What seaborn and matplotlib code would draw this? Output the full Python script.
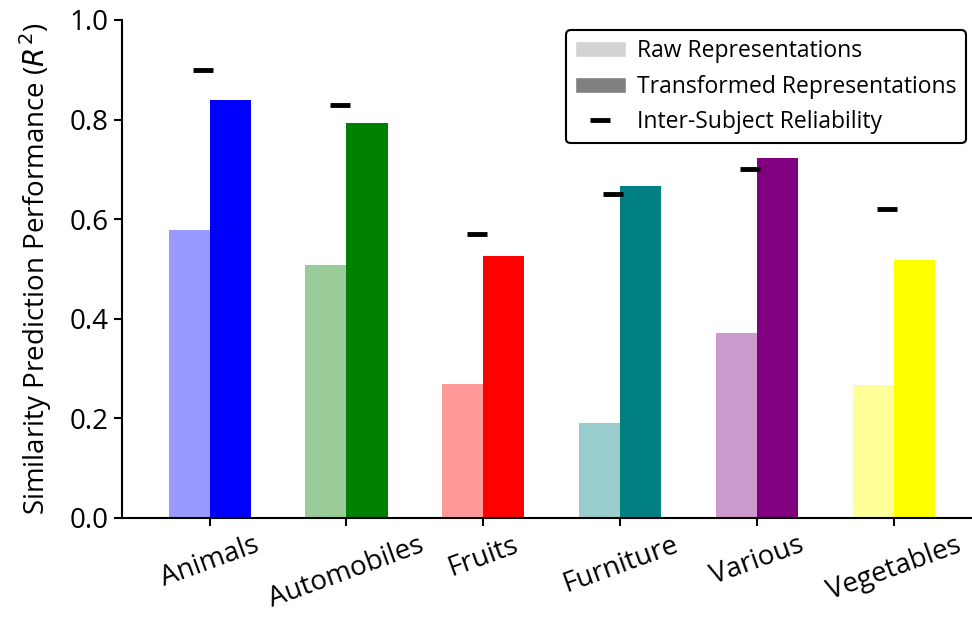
import numpy as np
import pandas as pd
import matplotlib
matplotlib.use("Agg")
import matplotlib.pyplot as plt
from matplotlib.patches import Patch
from matplotlib.lines import Line2D
import seaborn as sns

categories = ["Animals", "Automobiles", "Fruits", "Furniture", "Various", "Vegetables"]
raw_values = [0.578, 0.508, 0.269, 0.191, 0.371, 0.267]
transformed_values = [0.839, 0.793, 0.526, 0.667, 0.723, 0.518]
reliability = [0.90, 0.83, 0.57, 0.65, 0.70, 0.62]
colors = ["blue", "green", "red", "teal", "purple", "yellow"]

sns.set_style("ticks")
plt.rcParams["font.family"] = ["Open Sans", "DejaVu Sans"]
plt.rcParams["text.color"] = "black"
plt.rcParams["axes.labelcolor"] = "black"

df = pd.DataFrame({
    "category": categories * 2,
    "value": raw_values + transformed_values,
    "type": ["Raw"] * 6 + ["Transformed"] * 6,
})

fig = plt.figure(figsize=(9.72, 6.21), dpi=100)
ax = fig.add_axes([122 / 972, 1 - 518 / 621, 1 - 122 / 972, (518 - 20) / 621])

sns.barplot(data=df, x="category", y="value", hue="type", order=categories,
            hue_order=["Raw", "Transformed"], width=0.6, gap=0, ax=ax,
            errorbar=None, legend=False, linewidth=0)

bars = [p for p in ax.patches]
for i, p in enumerate(bars[:6]):
    p.set_facecolor(colors[i]); p.set_alpha(0.4); p.set_edgecolor("none")
for i, p in enumerate(bars[6:12]):
    p.set_facecolor(colors[i]); p.set_alpha(1.0); p.set_edgecolor("none")

ax.plot(np.arange(len(categories)) - 0.05, reliability, linestyle="none", marker="_",
        markersize=14, markeredgewidth=3.5, color="black")

ax.set_xlim(-0.64, 5.57)
ax.set_ylim(0, 1.0)
ax.set_yticks([0, 0.2, 0.4, 0.6, 0.8, 1.0])
ax.set_xlabel("")
ax.set_ylabel("Similarity Prediction Performance ($R^2$)", fontsize=20, labelpad=11,
              color="black")
ax.tick_params(axis="both", labelsize=20, width=1.5, length=6, color="black", labelcolor="black")
plt.setp(ax.get_xticklabels(), rotation=20, ha="center")
for s in ["top", "right"]:
    ax.spines[s].set_visible(False)
for s in ["left", "bottom"]:
    ax.spines[s].set_linewidth(1.5)
    ax.spines[s].set_color("black")

handles = [
    Patch(facecolor="lightgray", label="Raw Representations"),
    Patch(facecolor="gray", label="Transformed Representations"),
    Line2D([], [], linestyle="none", marker="_", markersize=14, markeredgewidth=3.5,
           color="black", label="Inter-Subject Reliability"),
]
leg = ax.legend(handles=handles, loc="upper right", fontsize=16.5, frameon=True,
                bbox_to_anchor=(1.006, 1.003), fancybox=True,
                handlelength=2.2, handletextpad=0.5)
leg.get_frame().set_edgecolor("black")
leg.get_frame().set_linewidth(1.5)
leg.get_frame().set_alpha(1)
for t in leg.get_texts():
    t.set_color("black")

fig.savefig("out.png", dpi=100)
